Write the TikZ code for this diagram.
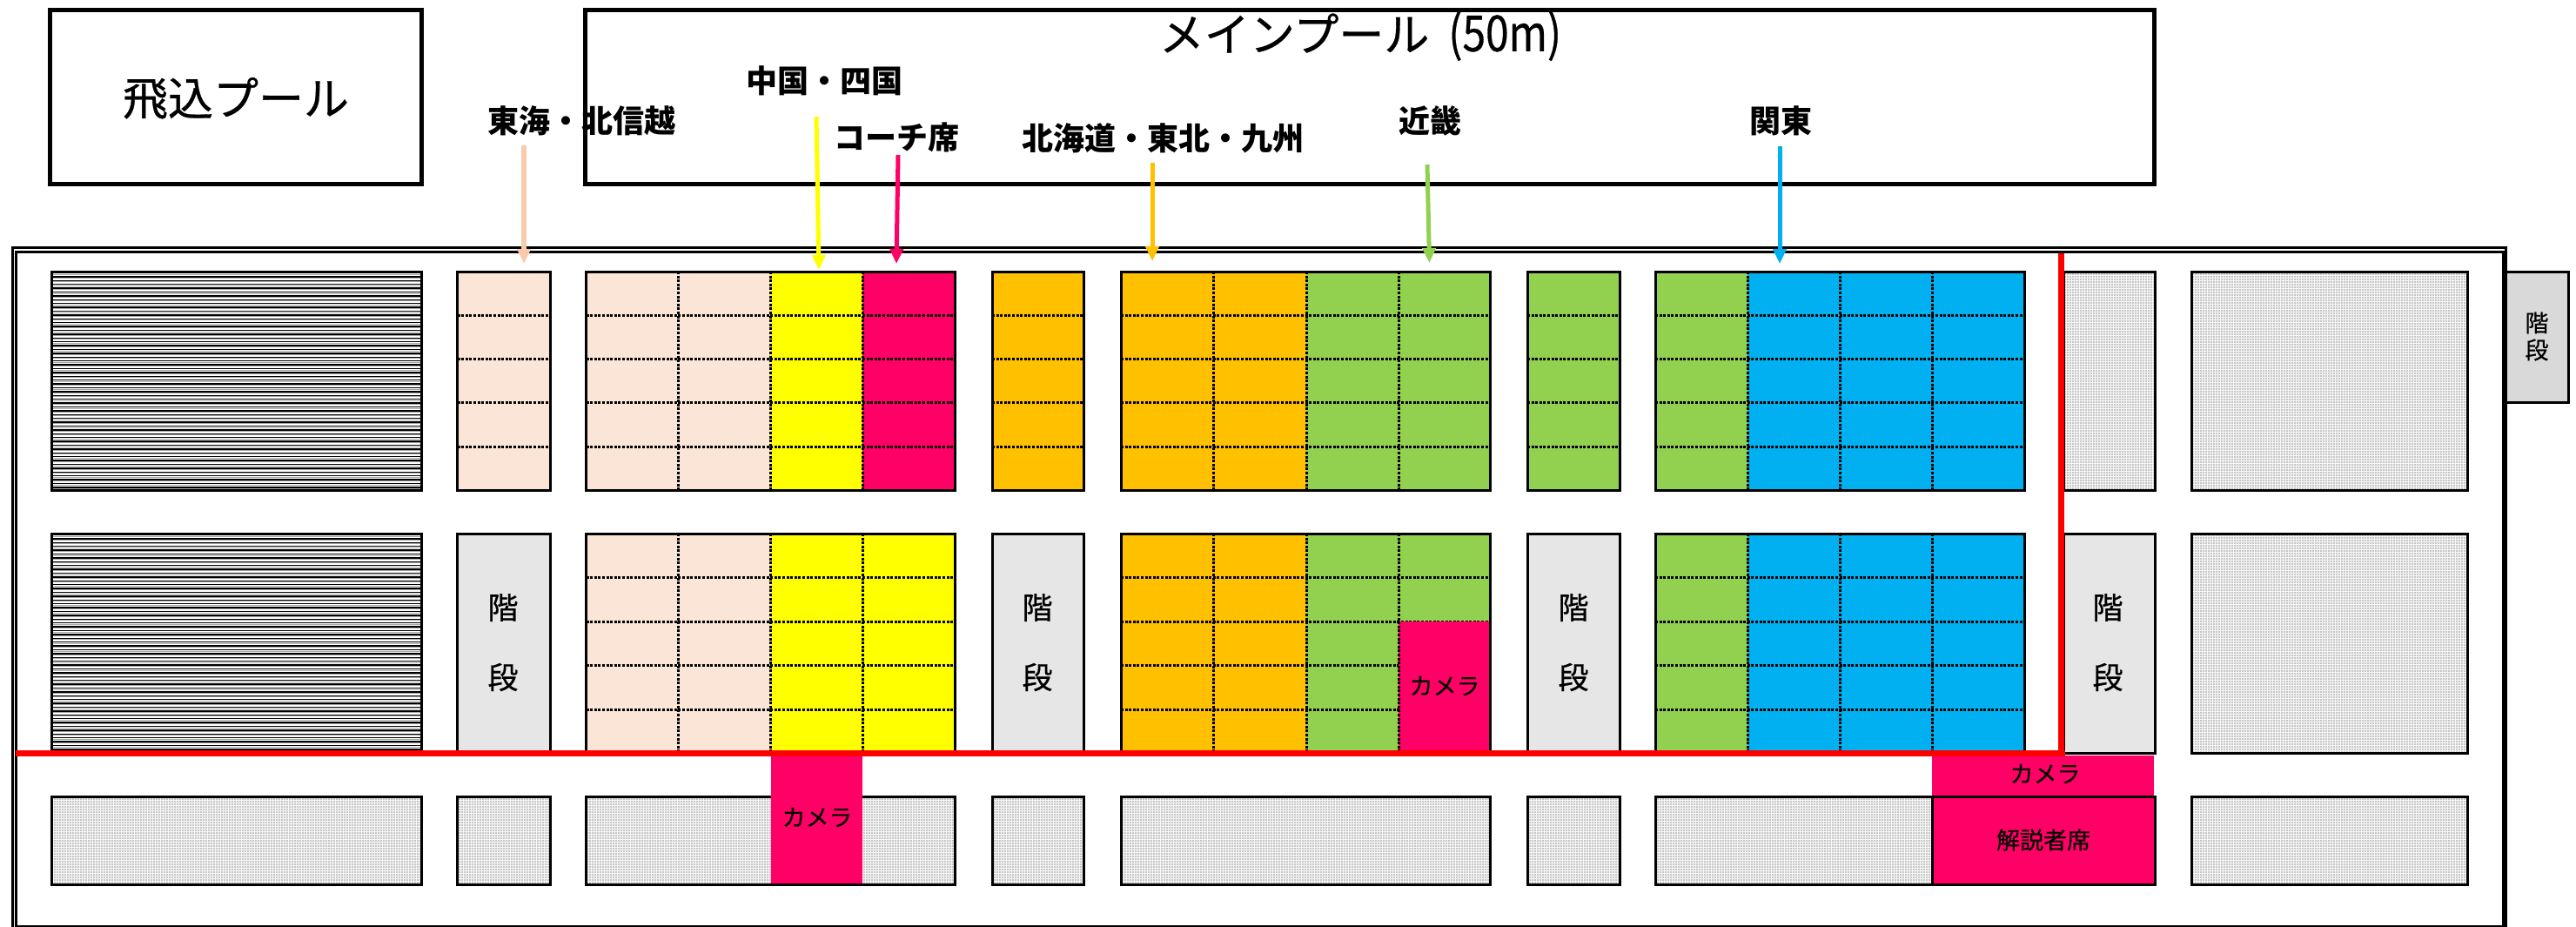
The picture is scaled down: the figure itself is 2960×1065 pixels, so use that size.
\documentclass[tikz,border=0pt]{standalone}
\usepackage{graphicx}
\usepackage{fontspec}
\setmainfont{Noto Sans CJK JP}
\newfontfamily\semibold[FakeBold=0.6]{Noto Sans CJK JP}
\usetikzlibrary{arrows.meta,patterns.meta}
\definecolor{cPeach}{HTML}{FBE5D6}
\definecolor{cArrowPeach}{HTML}{F8CBAD}
\definecolor{cYellow}{HTML}{FFFF00}
\definecolor{cPink}{HTML}{FF0066}
\definecolor{cOrange}{HTML}{FFC000}
\definecolor{cGreen}{HTML}{92D050}
\definecolor{cBlue}{HTML}{00B0F0}
\definecolor{cStair}{HTML}{E6E6E6}
\definecolor{cStairOut}{HTML}{D9D9D9}
\definecolor{cRed}{HTML}{FF0000}
\tikzset{
  frameline/.style={draw=black,line width=3pt},
  poolbox/.style={draw=black,line width=5pt},
  cellline/.style={draw=black,line width=3pt,dash pattern=on 3pt off 1.6pt},
  redline/.style={draw=cRed,line width=7pt},
  dotfill/.style={pattern={Dots[distance=3pt,radius=0.8pt]},pattern color=black!42},
  lab/.style={font=\fontsize{36}{36}\selectfont\bfseries,inner sep=0pt,text=black},
  poollab/.style={font=\fontsize{52}{52}\selectfont\semibold,inner sep=0pt,text=black},
  smalllab/.style={font=\fontsize{27}{27}\selectfont\semibold,inner sep=0pt,text=black},
  stairlab/.style={font=\fontsize{35}{35}\selectfont\semibold,inner sep=0pt,text=black},
  pointer/.style={line width=5pt,-{Triangle[length=17pt,width=15pt]}},
}
\newcommand{\hlinesA}[2]{\foreach \yy in {362,412,462,513}{\draw[cellline] (#1,\yy) -- (#2,\yy);}}
\newcommand{\hlinesB}[2]{\foreach \yy in {663,714,764,815}{\draw[cellline] (#1,\yy) -- (#2,\yy);}}
\newcommand{\vlines}[3]{\foreach \xx in {#3}{\draw[cellline] (\xx,#1) -- (\xx,#2);}}
\newcommand{\grayblock}[4]{%
  \fill[black!3] (#1,#2) rectangle (#3,#4);
  \fill[dotfill] (#1,#2) rectangle (#3,#4);
  \draw[frameline] (#1,#2) rectangle (#3,#4);}
\newcommand{\hatchblock}[4]{%
  \begin{scope}
  \clip (#1,#2) rectangle (#3,#4);
  \foreach \k in {0,...,58}{%
    \draw[black,line width=1.3pt] (#1,#2+4.4*\k+1.5) -- (#3,#2+4.4*\k+1.5);
    \draw[black!35,line width=0.8pt] (#1,#2+4.4*\k+3) -- (#3,#2+4.4*\k+3);}
  \end{scope}
  \draw[frameline] (#1,#2) rectangle (#3,#4);}
\begin{document}
\begin{tikzpicture}[x=1pt,y=-1pt]
\useasboundingbox (0,0) rectangle (2960,1065);
\fill[white] (0,0) rectangle (2960,1065);
% pools
\draw[poolbox] (57,12) rectangle (484,211);
\draw[poolbox] (672,12) rectangle (2475,211);
\node[poollab] (divepool) at (271,113) {飛込プール};
\node[poollab] (mainpool) at (1563,41) {メインプール\hspace{22pt}\scalebox{0.92}[1.1]{(50m)}};
% outer frame
\draw[frameline] (14.5,284.5) rectangle (2879,1072);
\draw[frameline] (18.5,289.5) rectangle (2876,1064);
% outside stair
\fill[cStairOut] (2879,312) rectangle (2951,462);
\draw[frameline] (2879,312) rectangle (2951,462);
\node[smalllab] (stairoutA) at (2915,371) {階};
\node[smalllab] (stairoutB) at (2915,402) {段};
% hatched
\hatchblock{59}{312}{484}{563}
\hatchblock{59}{613}{484}{865}
% row 1
\fill[cPeach] (525.5,312) rectangle (632,563);
\hlinesA{525.5}{632}
\draw[frameline] (525.5,312) rectangle (632,563);
\fill[cPeach] (673.5,312) rectangle (885.5,563);
\fill[cYellow] (885.5,312) rectangle (991,563);
\fill[cPink] (991,312) rectangle (1097,563);
\hlinesA{673.5}{1097}
\vlines{312}{563}{779,885.5,991}
\draw[frameline] (673.5,312) rectangle (1097,563);
\fill[cOrange] (1140,312) rectangle (1245,563);
\hlinesA{1140}{1245}
\draw[frameline] (1140,312) rectangle (1245,563);
\fill[cOrange] (1288,312) rectangle (1501,563);
\fill[cGreen] (1501,312) rectangle (1712,563);
\hlinesA{1288}{1712}
\vlines{312}{563}{1394,1501,1607}
\draw[frameline] (1288,312) rectangle (1712,563);
\fill[cGreen] (1755,312) rectangle (1861,563);
\hlinesA{1755}{1861}
\draw[frameline] (1755,312) rectangle (1861,563);
\fill[cGreen] (1902,312) rectangle (2008,563);
\fill[cBlue] (2008,312) rectangle (2326.5,563);
\hlinesA{1902}{2326.5}
\vlines{312}{563}{2008,2114,2220}
\draw[frameline] (1902,312) rectangle (2326.5,563);
\grayblock{2371}{312}{2476}{563}
\grayblock{2518}{312}{2835.5}{563}
% row 2
\fill[cStair] (525.5,613) rectangle (632,865);
\draw[frameline] (525.5,613) rectangle (632,865);
\node[stairlab] (stairAa) at (578,698) {階};
\node[stairlab] (stairAb) at (578,778) {段};
\fill[cPeach] (673.5,613) rectangle (885.5,865);
\fill[cYellow] (885.5,613) rectangle (1097,865);
\hlinesB{673.5}{1097}
\vlines{613}{865}{779,885.5,991}
\draw[frameline] (673.5,613) rectangle (1097,865);
\fill[cStair] (1140,613) rectangle (1245,865);
\draw[frameline] (1140,613) rectangle (1245,865);
\node[stairlab] (stairBa) at (1192,698) {階};
\node[stairlab] (stairBb) at (1192,778) {段};
\fill[cOrange] (1288,613) rectangle (1501,865);
\fill[cGreen] (1501,613) rectangle (1712,865);
\hlinesB{1288}{1712}
\vlines{613}{865}{1394,1501}
\fill[cPink] (1607,714) rectangle (1712,865);
\vlines{613}{865}{1607}
\draw[frameline] (1288,613) rectangle (1712,865);
\node[smalllab] (camA) at (1660,788) {カメラ};
\fill[cStair] (1755,613) rectangle (1861,865);
\draw[frameline] (1755,613) rectangle (1861,865);
\node[stairlab] (stairCa) at (1808,698) {階};
\node[stairlab] (stairCb) at (1808,778) {段};
\fill[cGreen] (1902,613) rectangle (2008,865);
\fill[cBlue] (2008,613) rectangle (2326.5,865);
\hlinesB{1902}{2326.5}
\vlines{613}{865}{2008,2114,2220}
\draw[frameline] (1902,613) rectangle (2326.5,865);
\fill[cStair] (2371,613) rectangle (2476,865);
\draw[frameline] (2371,613) rectangle (2476,865);
\node[stairlab] (stairDa) at (2422,698) {階};
\node[stairlab] (stairDb) at (2422,778) {段};
\grayblock{2518}{613}{2835.5}{865}
% row 3
\grayblock{59}{915}{484}{1016}
\grayblock{525.5}{915}{632}{1016}
\grayblock{673.5}{915}{1097}{1016}
\grayblock{1140}{915}{1245}{1016}
\grayblock{1288}{915}{1712}{1016}
\grayblock{1755}{915}{1861}{1016}
\grayblock{1902}{915}{2476}{1016}
\grayblock{2518}{915}{2835.5}{1016}
% cameras and commentators
\fill[cPink] (885.5,868) rectangle (991,1015);
\node[smalllab] (camB) at (939,939) {カメラ};
\fill[cPink] (2220,868) rectangle (2475,915);
\node[smalllab] (camC) at (2350,889) {カメラ};
\fill[cPink] (2220,915) rectangle (2476,1016);
\draw[frameline] (2220,915) rectangle (2476,1016);
\node[smalllab] (kaisetsu) at (2348,965) {解説者席};
% red route
\draw[redline] (18,865) -- (2372.5,865);
\draw[redline] (2368,291) -- (2368,868);
% labels
\node[lab] (tokai) at (668,139) {東海・北信越};
\node[lab] (chugoku) at (947,93) {中国・四国};
\node[lab] (coach) at (1030,158) {コーチ席};
\node[lab] (hokkaido) at (1336,159) {北海道・東北・九州};
\node[lab] (kinki) at (1643,139) {近畿};
\node[lab] (kanto) at (2046,139) {関東};
% arrows
\coordinate (tA) at (602,167);  \coordinate (hA) at (602,303);
\coordinate (tB) at (938,134);  \coordinate (hB) at (941,310);
\coordinate (tC) at (1032,178); \coordinate (hC) at (1030,303);
\coordinate (tD) at (1324,187); \coordinate (hD) at (1324,300);
\coordinate (tE) at (1640,189); \coordinate (hE) at (1642.5,302);
\coordinate (tF) at (2045,168); \coordinate (hF) at (2045,303);
\draw[pointer,cArrowPeach,line width=6pt] (tA) -- (hA);
\draw[pointer,cYellow] (tB) -- (hB);
\draw[pointer,cPink] (tC) -- (hC);
\draw[pointer,cOrange] (tD) -- (hD);
\draw[pointer,cGreen] (tE) -- (hE);
\draw[pointer,cBlue] (tF) -- (hF);
\end{tikzpicture}
\end{document}
